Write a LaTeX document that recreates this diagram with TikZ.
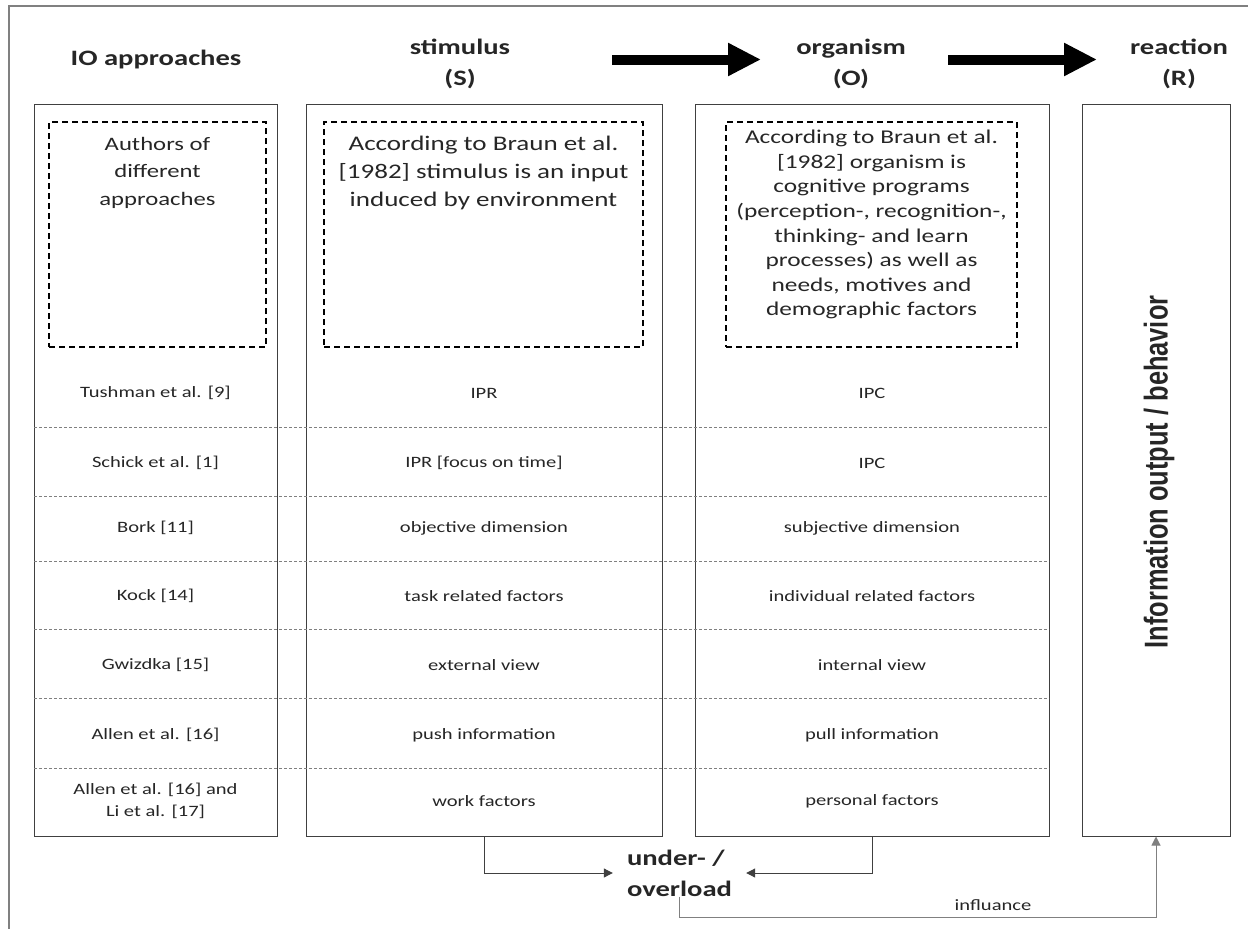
\documentclass[tikz,border=0pt]{standalone}
\usepackage{fontspec}
\setmainfont{Carlito}[FakeStretch=1.3]
\newfontfamily\vertfont{Liberation Sans}[FakeStretch=0.77]
\usetikzlibrary{arrows.meta}

\begin{document}
\begin{tikzpicture}[x=1pt,y=-1pt]
\tikzstyle{every node}+=[inner sep=0pt, text=black!85]
\tikzstyle{head}=[font=\bfseries\fontsize{22}{31}\selectfont, align=center]
\tikzstyle{intro}=[font=\fontsize{19.5}{27.5}\selectfont, align=center]
\tikzstyle{cell}=[font=\fontsize{15.8}{22}\selectfont, align=center]
\tikzstyle{column}=[draw=black!75, line width=1pt]
\tikzstyle{dashbox}=[draw=black, line width=1.5pt, dash pattern=on 6pt off 4pt]
\tikzstyle{rowline}=[draw=black!50, line width=0.8pt, dash pattern=on 3pt off 2pt]
\tikzstyle{bigarrow}=[line width=10pt, -{Triangle[length=33pt,width=31pt]}]
\tikzstyle{link}=[draw=black!75, line width=1pt, -{Triangle[length=9pt,width=9pt]}]
\useasboundingbox (0,0) rectangle (1248,929);
% outer frame
\draw [black!50, line width=1.2pt] (9,929) -- (9,6) -- (1248,6);
% headers
\node [head] (hio) at (156,60) {IO approaches};
\node [head] (hs) at (460,64) {stimulus\\(S)};
\node [head] (ho) at (851,64) {organism\\(O)};
\node [head] (hr) at (1179,64) {reaction\\(R)};
\coordinate (a1) at (612,59.5);
\coordinate (b1) at (761,59.5);
\coordinate (a2) at (948,59.5);
\coordinate (b2) at (1097,59.5);
\draw [bigarrow] (a1) -- (b1);
\draw [bigarrow] (a2) -- (b2);
% columns
\node [column, minimum width=243, minimum height=732] (io) at (155.5,470) {};
\node [column, minimum width=356, minimum height=732] (s) at (484,470) {};
\node [column, minimum width=354, minimum height=732] (o) at (872,470) {};
\node [column, minimum width=148, minimum height=732] (r) at (1156,470) {};
% definitions
\node [dashbox, minimum width=217, minimum height=225] (iobox) at (157.5,234.5) {};
\node [dashbox, minimum width=319, minimum height=225] (sbox) at (483.5,234.5) {};
\node [dashbox, minimum width=291, minimum height=225] (obox) at (871.5,234.5) {};
\node [intro, anchor=north, font=\fontsize{19}{27.5}\selectfont] (iotext) at (157.5,137) {Authors of\\different\\approaches};
\node [intro, anchor=north, font=\fontsize{20.8}{28}\selectfont] (stext) at (483.5,136) {According to Braun et al.\\{}[1982] stimulus is an input\\induced by environment};
\node [intro, anchor=north, font=\fontsize{19.5}{24.6}\selectfont] (otext) at (871.5,130) {According to Braun et al.\\{}[1982] organism is\\cognitive programs\\(perception-, recognition-,\\thinking- and learn\\processes) as well as\\needs, motives and\\demographic factors};
% rows
\draw [rowline] (34,427) -- (1049,427);
\draw [rowline] (34,496) -- (1049,496);
\draw [rowline] (34,561) -- (1049,561);
\draw [rowline] (34,629) -- (1049,629);
\draw [rowline] (34,698) -- (1049,698);
\draw [rowline] (34,768) -- (1049,768);
\node [cell] (io1) at (155.5,393) {Tushman et al. [9]};
\node [cell] (s1) at (484,393) {IPR};
\node [cell] (o1) at (872,393) {IPC};
\node [cell] (io2) at (155.5,463) {Schick et al. [1]};
\node [cell] (s2) at (484,463) {IPR [focus on time]};
\node [cell] (o2) at (872,463) {IPC};
\node [cell] (io3) at (155.5,528) {Bork [11]};
\node [cell] (s3) at (484,528) {objective dimension};
\node [cell] (o3) at (872,528) {subjective dimension};
\node [cell] (io4) at (155.5,596) {Kock [14]};
\node [cell] (s4) at (484,596) {task related factors};
\node [cell] (o4) at (872,596) {individual related factors};
\node [cell] (io5) at (155.5,665) {Gwizdka [15]};
\node [cell] (s5) at (484,665) {external view};
\node [cell] (o5) at (872,665) {internal view};
\node [cell] (io6) at (155.5,735) {Allen et al. [16]};
\node [cell] (s6) at (484,735) {push information};
\node [cell] (o6) at (872,735) {pull information};
\node [cell] (io7) at (155.5,801) {Allen et al. [16] and\\Li et al. [17]};
\node [cell] (s7) at (484,801) {work factors};
\node [cell] (o7) at (872,801) {personal factors};
% reaction
\node [rotate=90, font=\vertfont\bfseries\fontsize{33}{38}\selectfont] (rtext) at (1159,472) {Information output / behavior};
% under- / overload
\node [head, align=left, inner xsep=14pt] (load) at (679.5,873) {under- /\\overload};
\draw [link] (s.south) |- (load.west);
\draw [link] (o.south) |- (load.east);
\draw [link, draw=black!50] (load.south) -- (load.south |- 0,917) -| (r.south);
\node [cell] (infl) at (993,905) {influance};
\end{tikzpicture}
\end{document}
